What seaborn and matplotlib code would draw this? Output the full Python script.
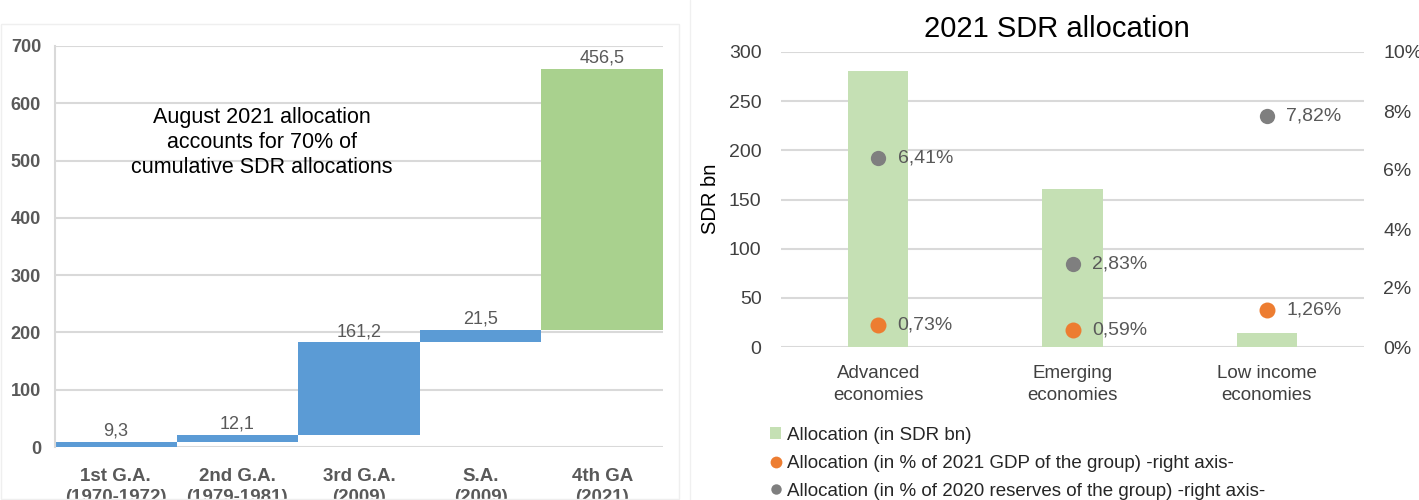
import numpy as np
import pandas as pd
import matplotlib
matplotlib.use("Agg")
import matplotlib.pyplot as plt
import seaborn as sns
from matplotlib.patches import Patch, Rectangle
from matplotlib.lines import Line2D

# ---------------- data ----------------
# Left chart: cumulative SDR allocations (waterfall)
alloc_labels = ["1st G.A.\n(1970-1972)", "2nd G.A.\n(1979-1981)", "3rd G.A.\n(2009)",
                "S.A.\n(2009)", "4th GA\n(2021)"]
alloc_values = [9.3, 12.1, 161.2, 21.5, 456.5]
left_yticks = [0, 100, 200, 300, 400, 500, 600, 700]
annotation = "August 2021 allocation\naccounts for 70% of\ncumulative SDR allocations"

# Right chart: 2021 SDR allocation by group
title_right = "2021 SDR allocation"
groups = ["Advanced\neconomies", "Emerging\neconomies", "Low income\neconomies"]
alloc_bn = [280.7, 160.7, 14.6]
pct_gdp = [0.73, 0.59, 1.26]
pct_reserves = [6.41, 2.83, 7.82]
right_left_ticks = [0, 50, 100, 150, 200, 250, 300]
right_right_ticks = [0, 2, 4, 6, 8, 10]
legend_labels = ["Allocation (in SDR bn)",
                 "Allocation (in % of 2021 GDP of the group) -right axis-",
                 "Allocation (in % of 2020 reserves of the group) -right axis-"]

# ---------------- style ----------------
sns.set_theme(style="white")
plt.rcParams["font.family"] = ["Liberation Sans", "DejaVu Sans"]

BLUE = "#5B9BD5"
GREEN_DARK = "#A9D18E"
GREEN_LIGHT = "#C5E0B4"
ORANGE = "#ED7D31"
GREY = "#7F7F7F"
GRID = "#D9D9D9"
TXT_GREY = "#595959"
TXT_DARK = "#404040"

W, H = 1419, 500
fig = plt.figure(figsize=(W / 100, H / 100), dpi=100)
fig.patch.set_facecolor("white")

# ---------------- left chart ----------------
ax1 = fig.add_axes([55 / W, 1 - 447 / H, (663 - 55) / W, (447 - 46) / H])
vals = np.array(alloc_values)
tops = np.cumsum(vals)
bases = tops - vals
df_left = pd.DataFrame({"cat": alloc_labels, "val": vals, "base": bases})
blue_part = df_left.iloc[:4]
green_part = df_left.iloc[4:]
sns.barplot(data=blue_part, x="cat", y="val", order=alloc_labels,
            bottom=blue_part["base"].values, color=BLUE, saturation=1,
            width=1.0, linewidth=0, ax=ax1)
sns.barplot(data=green_part, x="cat", y="val", order=alloc_labels,
            bottom=green_part["base"].values, color=GREEN_DARK, saturation=1,
            width=1.0, linewidth=0, ax=ax1)
ax1.set_xlim(-0.5, len(alloc_labels) - 0.5)
ax1.set_ylim(0, 700)
ax1.set_yticks(left_yticks)
ax1.set_axisbelow(True)
ax1.yaxis.grid(True, color=GRID, lw=1.5)
ax1.xaxis.grid(False)
for s in ["top", "right", "bottom"]:
    ax1.spines[s].set_visible(False)
ax1.spines["left"].set_color(GRID)
ax1.spines["left"].set_linewidth(1.5)
ax1.set_xlabel("")
ax1.set_ylabel("")
ax1.tick_params(axis="y", length=0, pad=10, labelsize=13, labelcolor=TXT_GREY)
ax1.tick_params(axis="x", length=0, pad=15, labelsize=13.5, labelcolor=TXT_GREY)
for lbl in ax1.get_yticklabels():
    lbl.set_fontweight("bold")
for lbl in ax1.get_xticklabels():
    lbl.set_fontweight("bold")
    lbl.set_linespacing(1.3)

for i, (t, v) in enumerate(zip(tops, vals)):
    ax1.annotate(f"{v:.1f}".replace(".", ","), (i, t), xytext=(0, 1.5),
                 textcoords="offset points", ha="center", va="bottom",
                 fontsize=13, color=TXT_GREY)

ax1.text(1.2, 531, annotation, ha="center", va="center", fontsize=15.5,
         color="black", linespacing=1.25)

# faint panel borders
fig.add_artist(Rectangle((1 / W, 1 / H), 678 / W, (500 - 25) / H,
                         transform=fig.transFigure, fill=False,
                         edgecolor="#EFEFEF", lw=1))
fig.add_artist(Line2D([690 / W, 690 / W], [0, 1], transform=fig.transFigure,
                      color="#F0F0F0", lw=1))

# ---------------- right chart ----------------
ax2 = fig.add_axes([781 / W, 1 - 347 / H, (1364 - 781) / W, (347 - 52) / H])
df_right = pd.DataFrame({"group": groups, "bn": alloc_bn,
                         "gdp": pct_gdp, "res": pct_reserves})
sns.barplot(data=df_right, x="group", y="bn", order=groups, color=GREEN_LIGHT,
            saturation=1, width=0.31, linewidth=0, ax=ax2)
ax2.set_ylim(0, 300)
ax2.set_yticks(right_left_ticks)
ax2.set_axisbelow(True)
ax2.yaxis.grid(True, color=GRID, lw=1.5)
ax2.xaxis.grid(False)
for s in ax2.spines.values():
    s.set_visible(False)
ax2.set_xlabel("")
ax2.set_ylabel("")
ax2.tick_params(axis="y", length=0, pad=14, labelsize=14, labelcolor=TXT_DARK)
ax2.tick_params(axis="x", length=0, pad=13, labelsize=13.5, labelcolor=TXT_DARK)
for lbl in ax2.get_xticklabels():
    lbl.set_linespacing(1.4)

ax3 = ax2.twinx()
sns.pointplot(data=df_right, x="group", y="res", order=groups, color=GREY,
              markers="o", linestyle="none", markersize=11,
              markeredgewidth=0, errorbar=None, ax=ax3)
sns.pointplot(data=df_right, x="group", y="gdp", order=groups, color=ORANGE,
              markers="o", linestyle="none", markersize=11.5,
              markeredgewidth=0, errorbar=None, ax=ax3)
ax3.set_ylim(0, 10)
ax3.set_yticks(right_right_ticks)
ax3.set_yticklabels([f"{t}%" for t in right_right_ticks])
ax3.set_ylabel("")
ax3.set_xlabel("")
ax3.grid(False)
for s in ax3.spines.values():
    s.set_visible(False)
ax3.tick_params(axis="y", length=0, pad=14, labelsize=14, labelcolor=TXT_DARK)
ax2.set_xlim(-0.5, len(groups) - 0.5)

for i, v in enumerate(pct_reserves):
    ax3.annotate(f"{v:.2f}".replace(".", ",") + "%", (i, v), xytext=(14, 0),
                 textcoords="offset points", ha="left", va="center",
                 fontsize=14, color=TXT_GREY)
for i, v in enumerate(pct_gdp):
    ax3.annotate(f"{v:.2f}".replace(".", ",") + "%", (i, v), xytext=(14, 0),
                 textcoords="offset points", ha="left", va="center",
                 fontsize=14, color=TXT_GREY)

fig.text(1057 / W, 1 - 29 / H, title_right, ha="center", va="center",
         fontsize=21, color="black")
fig.text(711 / W, 1 - 199 / H, "SDR bn", rotation=90, ha="center",
         va="center", fontsize=14.5, color="black")

handles = [Patch(facecolor=GREEN_LIGHT, edgecolor="none"),
           Line2D([], [], marker="o", linestyle="none", color=ORANGE,
                  markersize=8.5, markeredgewidth=0),
           Line2D([], [], marker="o", linestyle="none", color=GREY,
                  markersize=7.5, markeredgewidth=0)]
fig.legend(handles, legend_labels, loc="upper left",
           bbox_to_anchor=(770 / W, 1 - 427 / H), frameon=False,
           fontsize=13.5, handlelength=0.6, handleheight=0.6,
           handletextpad=0.3, labelspacing=0.58, borderpad=0,
           borderaxespad=0, labelcolor="#262626")

fig.savefig("out.png", dpi=100)
